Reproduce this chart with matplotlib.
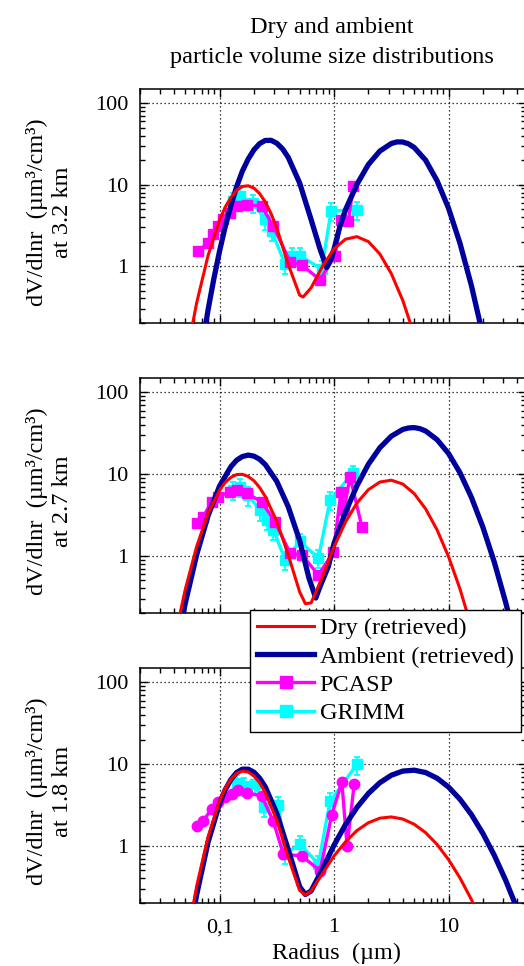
import matplotlib
matplotlib.use("Agg")
import matplotlib.pyplot as plt
from matplotlib.lines import Line2D
from matplotlib.ticker import FixedLocator, FixedFormatter, LogLocator, NullFormatter

plt.rcParams["font.family"] = ["Liberation Serif", "DejaVu Serif"]

# ---- data (radius in um, dV/dlnr in um^3/cm^3) ----
ALTITUDES = ["3.2 km", "2.7 km", "1.8 km"]

# 3.2 km
R_DRY_32 = [0.0501, 0.0631, 0.0794, 0.1, 0.112, 0.126, 0.141, 0.158, 0.178, 0.2,
            0.224, 0.251, 0.282, 0.316, 0.398, 0.501, 0.537, 0.631, 0.794, 1.0,
            1.259, 1.585, 1.995, 2.512, 3.162, 3.981, 5.012]
V_DRY_32 = [0.065, 0.352, 1.35, 3.66, 5.30, 7.02, 8.53, 9.51, 9.70, 9.08,
            7.79, 6.12, 4.42, 2.94, 1.05, 0.439, 0.417, 0.542, 1.00, 1.63,
            2.14, 2.30, 2.00, 1.41, 0.81, 0.38, 0.144]
R_AMB_32 = [0.0631, 0.0794, 0.0891, 0.1, 0.112, 0.126, 0.141, 0.158, 0.178, 0.2,
            0.224, 0.251, 0.282, 0.316, 0.355, 0.398, 0.501, 0.631, 0.759, 0.863,
            0.955, 1.122, 1.259, 1.585, 1.995, 2.512, 3.162, 3.548, 3.981, 4.467,
            5.012, 6.31, 7.943, 10.0, 12.59, 15.85, 19.95]
V_AMB_32 = [0.039, 0.290, 0.693, 1.52, 3.04, 5.60, 9.44, 14.6, 20.7, 26.9,
            32.0, 35.0, 35.1, 32.4, 27.6, 21.7, 10.5, 3.72, 1.58, 0.96,
            1.26, 3.02, 4.92, 10.1, 17.7, 25.9, 32.1, 33.6, 33.5, 31.8,
            28.7, 20.0, 11.2, 5.15, 1.91, 0.575, 0.141]
R_PCASP_32 = [0.0653, 0.0798, 0.0883, 0.0977, 0.108, 0.1235, 0.141, 0.1726, 0.233,
              0.295, 0.413, 0.522, 0.755, 1.02, 1.15, 1.33, 1.475]
V_PCASP_32 = [1.54, 1.94, 2.45, 3.10, 3.74, 4.51, 5.44, 5.70, 5.44,
              3.10, 1.13, 1.03, 0.68, 1.34, 3.64, 3.57, 9.55]
R_GRIMM_32 = [0.132, 0.151, 0.197, 0.249, 0.286, 0.373, 0.427, 0.505, 0.780, 0.942, 1.58]
V_GRIMM_32 = [6.26, 7.21, 5.97, 3.74, 2.70, 1.06, 1.34, 1.34, 0.92, 4.73, 4.96]

# 2.7 km
R_DRY_27 = [0.0398, 0.0501, 0.0631, 0.0794, 0.1, 0.112, 0.126, 0.141, 0.158, 0.178,
            0.2, 0.224, 0.251, 0.316, 0.398, 0.501, 0.562, 0.631, 0.794, 1.0,
            1.259, 1.585, 1.995, 2.512, 3.162, 3.981, 5.012, 6.31, 7.943, 10.0,
            12.59, 15.85]
V_DRY_27 = [0.086, 0.384, 1.30, 3.31, 6.34, 7.89, 9.15, 9.88, 9.95, 9.37,
            8.28, 6.86, 5.33, 2.65, 1.03, 0.362, 0.260, 0.266, 0.558, 1.29,
            2.59, 4.44, 6.45, 8.00, 8.43, 7.57, 5.78, 3.76, 2.08, 0.98,
            0.394, 0.134]
R_AMB_27 = [0.0398, 0.0501, 0.0631, 0.0794, 0.1, 0.126, 0.141, 0.158, 0.178, 0.2,
            0.224, 0.251, 0.316, 0.398, 0.501, 0.603, 0.692, 0.759, 0.891, 1.0,
            1.259, 1.585, 1.995, 2.512, 3.162, 3.981, 4.467, 5.012, 5.623, 6.31,
            7.943, 10.0, 12.59, 15.85, 19.95, 25.12, 31.62, 39.81]
V_AMB_27 = [0.049, 0.259, 1.03, 3.10, 7.13, 12.4, 14.8, 16.4, 17.1, 16.6,
            15.2, 13.1, 8.17, 4.00, 1.54, 0.54, 0.305, 0.43, 0.74, 1.42,
            3.43, 7.20, 13.2, 21.0, 29.1, 35.2, 36.7, 37.1, 36.0, 33.7,
            26.4, 17.9, 10.4, 5.20, 2.25, 0.836, 0.267, 0.074]
R_PCASP_27 = [0.0632, 0.0722, 0.0854, 0.0977, 0.1235, 0.141, 0.1726, 0.233, 0.305,
              0.413, 0.522, 0.730, 0.987, 1.15, 1.22, 1.38, 1.75]
V_PCASP_27 = [2.50, 3.02, 4.60, 5.30, 6.09, 6.38, 5.81, 4.60, 2.62,
              1.08, 1.03, 0.586, 1.10, 6.09, 3.64, 9.28, 2.28]
R_GRIMM_27 = [0.132, 0.151, 0.179, 0.226, 0.258, 0.295, 0.373, 0.505, 0.730, 0.923, 1.45]
V_GRIMM_27 = [6.4, 7.0, 5.5, 3.6, 2.75, 2.1, 0.9, 1.5, 0.94, 4.8, 10.2]

# 1.8 km
R_DRY_18 = [0.0501, 0.0631, 0.0794, 0.1, 0.112, 0.126, 0.141, 0.158, 0.178, 0.2,
            0.224, 0.251, 0.316, 0.398, 0.501, 0.562, 0.631, 0.794, 1.0, 1.259,
            1.585, 1.995, 2.512, 3.162, 3.981, 5.012, 6.31, 7.943, 10.0, 12.59,
            15.85, 19.95]
V_DRY_18 = [0.054, 0.320, 1.29, 3.54, 5.06, 6.55, 7.71, 8.20, 7.99, 7.16,
            5.92, 4.50, 2.07, 0.726, 0.286, 0.250, 0.281, 0.459, 0.752, 1.12,
            1.54, 1.92, 2.18, 2.26, 2.13, 1.84, 1.45, 1.04, 0.679, 0.405,
            0.220, 0.109]
R_AMB_18 = [0.0501, 0.0631, 0.0794, 0.1, 0.112, 0.126, 0.141, 0.158, 0.178, 0.2,
            0.224, 0.251, 0.316, 0.398, 0.501, 0.562, 0.631, 0.794, 1.0, 1.259,
            1.585, 1.995, 2.512, 3.162, 3.981, 5.012, 6.31, 7.943, 10.0, 12.59,
            15.85, 19.95, 25.12, 31.62, 39.81, 50.12]
V_AMB_18 = [0.038, 0.252, 1.11, 3.27, 4.84, 6.50, 7.89, 8.67, 8.67, 7.96,
            6.73, 5.26, 2.51, 0.899, 0.316, 0.254, 0.281, 0.523, 1.02, 1.82,
            2.95, 4.38, 5.92, 7.31, 8.22, 8.43, 7.89, 6.73, 5.25, 3.72,
            2.41, 1.42, 0.766, 0.377, 0.169, 0.069]
R_PCASP_18 = [0.0632, 0.0722, 0.0854, 0.0977, 0.1117, 0.1277, 0.146, 0.1726, 0.233,
              0.295, 0.361, 0.522, 0.755, 0.955, 1.17, 1.30, 1.50]
V_PCASP_18 = [1.75, 2.02, 2.85, 3.44, 3.96, 4.35, 4.77, 4.43, 4.1,
              2.0, 0.79, 0.755, 0.495, 2.4, 6.0, 1.0, 5.7]
R_GRIMM_18 = [0.141, 0.165, 0.204, 0.245, 0.327, 0.373, 0.505, 0.730, 0.923, 1.58]
V_GRIMM_18 = [5.9, 5.4, 5.7, 3.0, 3.2, 0.8, 1.05, 0.6, 3.5, 9.9]

GRIMM_REL_ERR = 0.25

X_TICKS = [0.1, 1, 10]
X_TICK_LABELS = ["0,1", "1", "10"]
Y_TICKS = [1, 10, 100]
Y_TICK_LABELS = ["1", "10", "100"]

LEGEND_LABELS = ["Dry (retrieved)", "Ambient (retrieved)", "PCASP", "GRIMM"]

# ---- style ----
RED = "#ff0000"
NAVY = "#00009c"
MAGENTA = "#ff00ff"
CYAN = "#00ffff"
FS = 17.5

W, H = 524, 966
fig = plt.figure(figsize=(W / 100, H / 100), dpi=100)

panels = [
    (89, 323, R_DRY_32, V_DRY_32, R_AMB_32, V_AMB_32, R_PCASP_32, V_PCASP_32,
     R_GRIMM_32, V_GRIMM_32, "s"),
    (378, 613, R_DRY_27, V_DRY_27, R_AMB_27, V_AMB_27, R_PCASP_27, V_PCASP_27,
     R_GRIMM_27, V_GRIMM_27, "s"),
    (668, 903, R_DRY_18, V_DRY_18, R_AMB_18, V_AMB_18, R_PCASP_18, V_PCASP_18,
     R_GRIMM_18, V_GRIMM_18, "o"),
]

for i, (top, bot, rd, vd, ra, va, rp, vp, rg, vg, pm) in enumerate(panels):
    ax = fig.add_axes([139.5 / W, 1 - bot / H, 386.5 / W, (bot - top) / H])
    ax.set_xscale("log")
    ax.set_yscale("log")

    err = [v * GRIMM_REL_ERR for v in vg]
    ax.errorbar(rg, vg, yerr=err, color=CYAN, marker="s", ms=7.5, lw=2.4,
                elinewidth=1.3, capsize=2.5, capthick=1.3, zorder=2)
    ax.plot(rp, vp, color=MAGENTA, marker=pm, ms=7.5, lw=2.4, zorder=3)
    ax.plot(ra, va, color=NAVY, lw=3.8, zorder=4, solid_capstyle="butt")
    ax.plot(rd, vd, color=RED, lw=2.2, zorder=5)

    ax.set_xlim(0.02, 47.5)
    ax.set_ylim(0.2, 150)

    ax.xaxis.set_major_locator(FixedLocator(X_TICKS))
    ax.yaxis.set_major_locator(FixedLocator(Y_TICKS))
    ax.xaxis.set_minor_locator(LogLocator(base=10, subs=range(2, 10), numticks=20))
    ax.yaxis.set_minor_locator(LogLocator(base=10, subs=range(2, 10), numticks=20))
    ax.xaxis.set_minor_formatter(NullFormatter())
    ax.yaxis.set_minor_formatter(NullFormatter())
    ax.yaxis.set_major_formatter(FixedFormatter(Y_TICK_LABELS))
    if i == 2:
        ax.xaxis.set_major_formatter(FixedFormatter(X_TICK_LABELS))
    else:
        ax.xaxis.set_major_formatter(NullFormatter())

    ax.tick_params(which="both", direction="in", top=True, right=True, width=1.0)
    ax.tick_params(which="major", length=6)
    ax.tick_params(which="minor", length=3.5)
    ax.tick_params(axis="x", which="major", pad=11, labelsize=16)
    ax.tick_params(axis="y", which="major", pad=8, labelsize=16)
    for s in ax.spines.values():
        s.set_linewidth(1.1)

    ax.grid(which="major", color="k", linestyle=(0, (1, 2.2)), lw=0.9)

    yc = (top + bot) / 2 + 6
    fig.text(37 / W, 1 - yc / H, "dV/dlnr  (\u00b5m\u00b3/cm\u00b3)", rotation=90,
             ha="center", va="center", fontsize=FS)
    fig.text(63 / W, 1 - yc / H, "at " + ALTITUDES[i], rotation=90,
             ha="center", va="center", fontsize=FS)

fig.text(332 / W, 1 - 33 / H, "Dry and ambient", ha="center", va="baseline", fontsize=FS)
fig.text(332 / W, 1 - 63 / H, "particle volume size distributions", ha="center",
         va="baseline", fontsize=FS)
fig.text(337 / W, 1 - 959 / H, "Radius  (\u00b5m)", ha="center", va="baseline", fontsize=FS)

handles = [
    Line2D([], [], color=RED, lw=2.2),
    Line2D([], [], color=NAVY, lw=3.8),
    Line2D([], [], color=MAGENTA, lw=2.4, marker="s", ms=9),
    Line2D([], [], color=CYAN, lw=2.4, marker="s", ms=9),
]
leg = fig.legend(handles, LEGEND_LABELS, loc="upper left",
                 bbox_to_anchor=(250 / W, 1 - 610 / H), bbox_transform=fig.transFigure,
                 frameon=True, fancybox=False, edgecolor="k", framealpha=1,
                 fontsize=FS, handlelength=2.35, handletextpad=0.22,
                 labelspacing=0.26, borderpad=0.3, borderaxespad=0)
leg.get_frame().set_linewidth(1.0)

fig.savefig("out.png", dpi=100)
